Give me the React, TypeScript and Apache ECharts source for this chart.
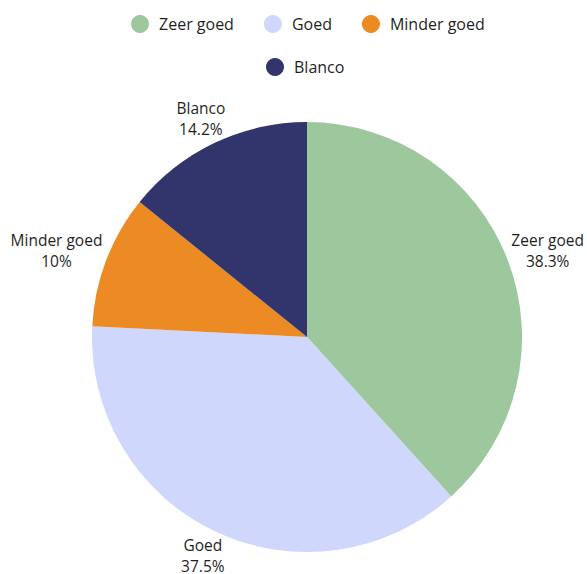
import React, { useEffect, useRef } from "react";
import * as echarts from "echarts";

const categories = ["Zeer goed", "Goed", "Minder goed", "Blanco"];
const values = [38.3, 37.5, 10, 14.2];
const colors = ["#9dc89d", "#cfd8fc", "#ec8a24", "#31356b"];
const legendRow1 = ["Zeer goed", "Goed", "Minder goed"];
const legendRow2 = ["Blanco"];

const CX = 307;
const CY = 337;
const R = 215;
const OFFSET = 4;
const FONT = "'Open Sans', Roboto, sans-serif";

export default function App() {
  const ref = useRef<HTMLDivElement>(null);
  useEffect(() => {
    document.body.style.margin = "0";
    const chart = echarts.init(ref.current!, null, { renderer: "svg" });
    const total = values.reduce((a, b) => a + b, 0);
    const legendBase = {
      icon: "circle",
      itemWidth: 18,
      itemHeight: 18,
      itemGap: 30,
      textStyle: { fontSize: 16, color: "#1f1f1f", fontFamily: FONT, padding: [0, 0, 0, 5] },
    };
    chart.setOption({
      animation: false,
      textStyle: { fontFamily: FONT },
      legend: [
        { ...legendBase, top: 10, left: 126, data: legendRow1 },
        { ...legendBase, top: 53, left: 261, data: legendRow2 },
      ],
      series: [
        {
          type: "pie",
          center: [CX, CY],
          radius: R,
          startAngle: 90,
          clockwise: true,
          avoidLabelOverlap: false,
          data: categories.map((name, i) => ({
            name,
            value: values[i],
            itemStyle: { color: colors[i] },
          })),
          label: {
            show: true,
            position: "outside",
            fontSize: 15.5,
            lineHeight: 21,
            color: "#1f1f1f",
            fontFamily: FONT,
            formatter: (p: any) => `${p.name}\n${values[p.dataIndex]}%`,
          },
          labelLine: { show: false },
          labelLayout: (params: any) => {
            const i = params.dataIndex;
            let before = 0;
            for (let j = 0; j < i; j++) before += values[j];
            const mid = ((before + values[i] / 2) / total) * Math.PI * 2;
            const vx = Math.sin(mid);
            const vy = -Math.cos(mid);
            const px = CX + R * vx;
            const py = CY + R * vy;
            const w = params.labelRect.width;
            const h = params.labelRect.height;
            const vs = 1 / Math.max(Math.abs(vx), Math.abs(vy));
            return {
              x: px + (w / 2) * vx * vs + OFFSET * vx,
              y: py + (h / 2) * vy * vs + OFFSET * vy,
              align: "center",
              verticalAlign: "middle",
            };
          },
        },
      ],
    });
    return () => chart.dispose();
  }, []);
  return <div ref={ref} style={{ width: 587, height: 574 }} />;
}
